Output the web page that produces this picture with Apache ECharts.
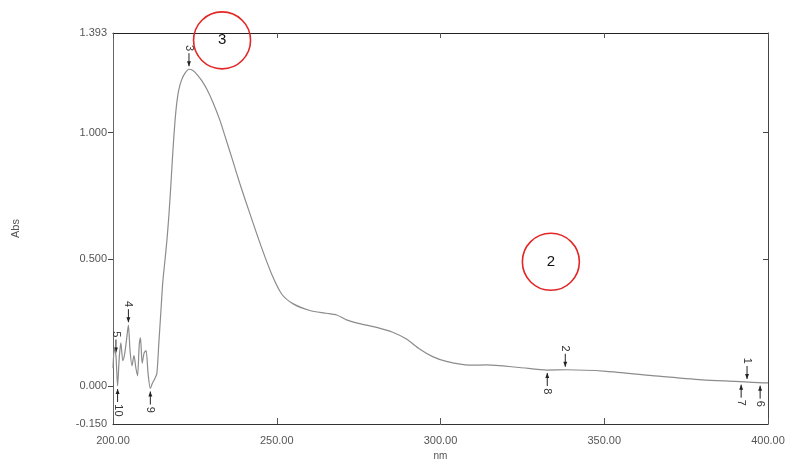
<!DOCTYPE html>
<html><head><meta charset="utf-8">
<script src="https://cdn.jsdelivr.net/npm/echarts@6/dist/echarts.min.js"></script>
<style>html,body{margin:0;padding:0;background:#fff}#c{width:785px;height:459px}</style>
</head><body><div id="c"></div>
<script>
// Spectrum (nm, Abs)
const wavelengths = [200.0,200.4,200.9,201.4,201.9,202.4,203.0,203.6,204.2,204.7,205.2,205.8,206.4,207.0,207.5,208.0,208.4,208.9,209.5,210.1,210.7,211.4,212.0,212.8,213.4,214.0,214.6,215.2,215.9,216.5,217.1,217.7,218.3,218.9,219.5,220.1,221.0,222.0,223.2,224.4,225.6,227.1,228.7,230.5,232.6,234.1,236.3,238.7,241.8,245.4,248.5,251.5,254.9,260.1,265.2,268.3,271.3,275.3,280.5,285.4,289.6,293.6,297.6,301.8,308.8,314.0,324.1,332.6,338.4,350.6,364.6,379.9,390.2,399.4,400.0];
const absorbance  = [0.07,0.15,0.12,0.00,0.11,0.17,0.10,0.13,0.19,0.24,0.14,0.08,0.12,0.07,0.04,0.16,0.19,0.09,0.13,0.14,0.05,-0.01,0.01,0.03,0.05,0.17,0.29,0.41,0.50,0.58,0.68,0.80,0.93,1.04,1.12,1.17,1.21,1.235,1.25,1.245,1.23,1.205,1.17,1.12,1.05,0.99,0.90,0.80,0.68,0.545,0.44,0.363,0.325,0.298,0.287,0.280,0.261,0.246,0.231,0.212,0.185,0.146,0.116,0.097,0.082,0.083,0.073,0.063,0.064,0.058,0.041,0.024,0.018,0.012,0.012];

// Peak-pick markers
const markerLabels = ['1','2','3','4','5','6','7','8','9','10'];
const markerNm     = [393.6,338.1,223.2,204.7,200.9,397.6,391.8,332.6,211.4,201.4];
const markerAbs    = [0.016,0.064,1.25,0.24,0.12,0.013,0.017,0.063,-0.01,0.00];
const markerSide   = [1,1,1,1,1,-1,-1,-1,-1,-1];

// Hand-drawn red circle annotations
const circleLabels = ['3','2'];
const circleNm     = [233.3,333.7];
const circleAbs    = [1.364,0.490];

// Axis ticks
const xTicks = [200,250,300,350,400];
const yTicks = [-0.15,0,0.5,1.0,1.393];

const font = 'Liberation Sans, Arial, sans-serif';
const chart = echarts.init(document.getElementById('c'), null, {renderer:'canvas'});

const lineData = wavelengths.map((w,i)=>[w,absorbance[i]]);
const markerData = markerNm.map((w,i)=>[w,markerAbs[i],markerSide[i]]);

chart.setOption({
  animation:false,
  backgroundColor:'#fff',
  grid:{left:113,right:17,top:33,bottom:35,outerBoundsMode:'none',containLabel:false},
  xAxis:[{
    type:'value',position:'bottom',min:200,max:400,interval:50,
    name:'nm',nameLocation:'middle',nameGap:26,
    nameTextStyle:{color:'#555',fontSize:10,fontFamily:font},
    axisLine:{show:true,onZero:false,lineStyle:{color:'#333',width:1}},
    axisTick:{show:true,inside:true,length:6,lineStyle:{color:'#555'}},
    axisLabel:{color:'#555',fontSize:11,fontFamily:font,margin:11,formatter:v=>v.toFixed(2)},
    splitLine:{show:false}
  },{
    type:'value',position:'top',min:200,max:400,interval:50,
    axisLine:{show:true,onZero:false,lineStyle:{color:'#222',width:1.2}},
    axisTick:{show:true,inside:true,length:5,lineStyle:{color:'#555'}},
    axisLabel:{show:false},splitLine:{show:false}
  }],
  yAxis:[{
    type:'value',position:'left',min:-0.15,max:1.393,
    name:'Abs',nameLocation:'middle',nameGap:92,nameRotate:90,
    nameTextStyle:{color:'#555',fontSize:11,fontFamily:font},
    axisLine:{show:true,onZero:false,lineStyle:{color:'#666',width:1}},
    axisTick:{show:true,inside:false,length:5,customValues:[0,0.5,1.0],lineStyle:{color:'#444'}},
    axisLabel:{color:'#555',fontSize:11,fontFamily:font,margin:6,customValues:yTicks,formatter:v=>v.toFixed(3)},
    splitLine:{show:false}
  },{
    type:'value',position:'right',min:-0.15,max:1.393,
    axisLine:{show:true,onZero:false,lineStyle:{color:'#444',width:1}},
    axisTick:{show:true,inside:true,length:5,customValues:[0.5,1.0],lineStyle:{color:'#444'}},
    axisLabel:{show:false},splitLine:{show:false}
  }],
  series:[{
    type:'line',data:lineData,showSymbol:false,smooth:0.25,
    lineStyle:{color:'#8c8c8c',width:1.2},
    markPoint:{
      symbol:'circle',symbolSize:57,
      itemStyle:{color:'rgba(0,0,0,0)',borderColor:'#e32626',borderWidth:1.6},
      label:{show:true,position:'inside',color:'#111',fontSize:15,fontFamily:font},
      data:circleNm.map((w,i)=>({coord:[w,circleAbs[i]],value:circleLabels[i]}))
    }
  },{
    type:'custom',data:markerData,
    renderItem:function(params,api){
      const p = api.coord([api.value(0),api.value(1)]);
      const dir = api.value(2);
      const gap = 3, len = 13;
      const tipY = p[1]-dir*gap;
      const endY = p[1]-dir*(gap+len);
      const txt = markerLabels[params.dataIndex];
      const half = txt.length*3.2+2;
      return {type:'group',children:[
        {type:'line',shape:{x1:p[0],y1:tipY,x2:p[0],y2:endY},style:{stroke:'#222',lineWidth:1}},
        {type:'polygon',shape:{points:[[p[0],tipY],[p[0]-2,tipY-dir*5],[p[0]+2,tipY-dir*5]]},style:{fill:'#222'}},
        {type:'text',x:p[0],y:endY-dir*half,rotation:-Math.PI/2,
          style:{text:txt,fontSize:11,fontFamily:font,fill:'#333',align:'center',verticalAlign:'middle'}}
      ]};
    }
  }]
});
</script></body></html>
